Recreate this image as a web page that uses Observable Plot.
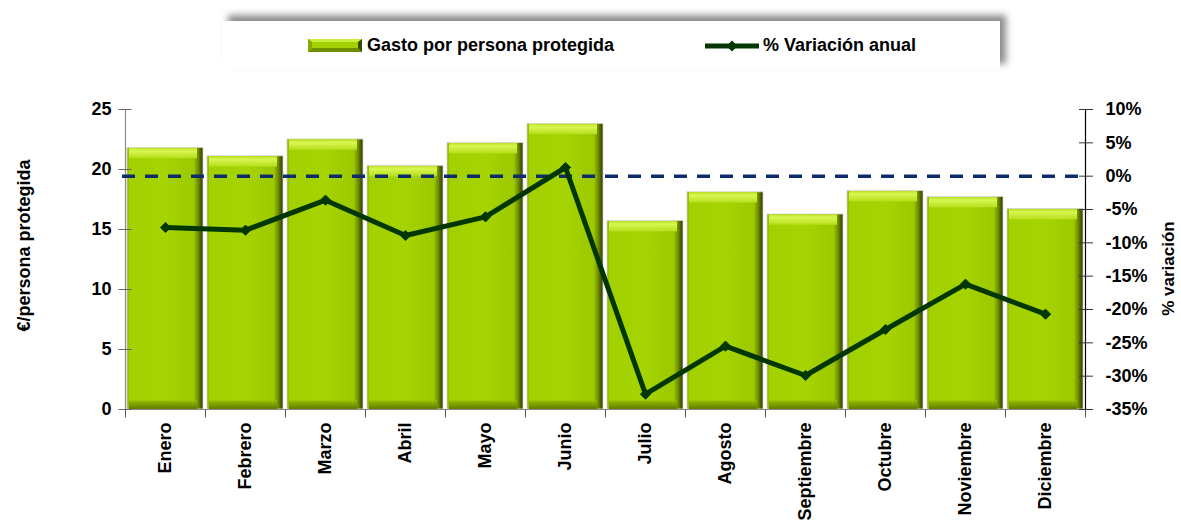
<!DOCTYPE html>
<html>
<head>
<meta charset="utf-8">
<script src="https://cdn.jsdelivr.net/npm/d3@7"></script>
<script src="https://cdn.jsdelivr.net/npm/@observablehq/plot@0.6"></script>
<style>
  body { margin: 0; background: white; font-family: "Liberation Sans", Arial, sans-serif; }
  #legend { position: relative; width: 1181px; height: 80px; }
  #legend .box { position: absolute; left: 222px; top: 21px; width: 778px; height: 49px; background: white;
    box-shadow: 6px -6px 7px rgba(0,0,0,0.45); }
  #legend .item { position: absolute; top: 0; height: 49px; display: flex; align-items: center; font-weight: bold; font-size: 18px; color: #000; }
  #chart { position: relative; width: 1181px; height: 445px; }
  #chart svg { position: absolute; left: 0; top: 0; }
</style>
</head>
<body>
<div id="legend">
  <div class="box">
    <div class="item" style="left:86px">
      <svg width="54" height="13" style="margin-right:5px">
        <rect x="0" y="0" width="54" height="13" fill="#a2d000"/>
        <polygon points="0,0 54,0 50,3 4,3" fill="#c8ee40"/>
        <polygon points="0,13 54,13 50,9 4,9" fill="#6f8f00"/>
        <polygon points="54,0 54,13 50,9 50,3" fill="#3a4a00"/>
        <polygon points="0,0 0,13 4,9 4,3" fill="#86aa00"/>
      </svg>
      <span>Gasto por persona protegida</span>
    </div>
    <div class="item" style="left:483px">
      <svg width="54" height="14" style="margin-right:4px">
        <line x1="0" y1="7" x2="54" y2="7" stroke="#023602" stroke-width="5"/>
        <polygon points="27,1.5 32.5,7 27,12.5 21.5,7" fill="#023602"/>
      </svg>
      <span>% Variación anual</span>
    </div>
  </div>
</div>
<div id="chart"></div>
<script>
// ---- data ----
const months = ["Enero","Febrero","Marzo","Abril","Mayo","Junio","Julio","Agosto","Septiembre","Octubre","Noviembre","Diciembre"];
const gasto = [21.8, 21.1, 22.5, 20.3, 22.2, 23.8, 15.7, 18.1, 16.25, 18.2, 17.7, 16.7];
const variacion = [-7.7, -8.1, -3.6, -8.9, -6.1, 1.3, -32.7, -25.5, -29.9, -23.0, -16.2, -20.7];
const leftTicks = [0, 5, 10, 15, 20, 25];
const rightTicks = [-35, -30, -25, -20, -15, -10, -5, 0, 5, 10];
const leftTitle = "€/persona protegida";
const rightTitle = "% variación";

const data = months.map((m, i) => ({month: m, gasto: gasto[i], pct: variacion[i]}));

const W = 1181, H = 445;
const margins = {marginLeft: 125, marginRight: 96, marginTop: 29, marginBottom: 116};
const xOpts = {type: "band", domain: months, paddingInner: 0.05, paddingOuter: 0.025, align: 0.5};
const font = {fontFamily: "'Liberation Sans', Arial, sans-serif", fontWeight: "bold", fontSize: "18px"};
const step = (W - margins.marginLeft - margins.marginRight) / months.length;

const p1 = Plot.plot({
  width: W, height: H, ...margins,
  style: {...font, background: "white"},
  x: xOpts,
  y: {domain: [0, 25]},
  marks: [
    Plot.barY(data, {x: "month", y: "gasto", fill: "url(#gBar)", stroke: "#d4d4d4", strokeWidth: 0.8}),
    Plot.barY(data, {x: "month", y1: d => d.gasto - 0.9, y2: "gasto", fill: "url(#gTop)", insetLeft: 2, insetRight: 6, insetTop: 0.5}),
    Plot.barY(data, {x: "month", y1: 0, y2: 0.7, fill: "url(#gBot)", insetLeft: 2, insetRight: 6}),
    Plot.ruleY([0], {stroke: "#8c8c8c", strokeWidth: 1.2}),
    Plot.frame({anchor: "left", stroke: "#8c8c8c", strokeWidth: 1.2}),
    Plot.ruleX(months, {x: d => d, dx: -step / 2, y1: 0, y2: -0.7, stroke: "#555"}),
    Plot.ruleX(months.slice(-1), {x: d => d, dx: step / 2, y1: 0, y2: -0.7, stroke: "#555"}),
    Plot.axisY({ticks: leftTicks, anchor: "left", tickSize: 13, dx: 6.5, tickFormat: () => "", label: null, stroke: "#666"}),
    Plot.axisY({ticks: leftTicks, anchor: "left", tickSize: 0, tickPadding: 14, fontSize: 18, label: null}),
    Plot.axisX({tickSize: 0, tickRotate: -90, tickPadding: 13, fontSize: 18, label: null}),
    Plot.text([leftTitle], {text: d => d, frameAnchor: "left", textAnchor: "middle", dx: -101, dy: -14, rotate: -90, fontSize: 18, fontWeight: "bold"})
  ]
});

// gradients for the bevelled bars
const NS = "http://www.w3.org/2000/svg";
const defs = document.createElementNS(NS, "defs");
function grad(id, vertical, stops) {
  const g = document.createElementNS(NS, "linearGradient");
  g.setAttribute("id", id);
  g.setAttribute("x1", "0"); g.setAttribute("y1", "0");
  g.setAttribute("x2", vertical ? "0" : "1"); g.setAttribute("y2", vertical ? "1" : "0");
  for (const [o, c] of stops) {
    const s = document.createElementNS(NS, "stop");
    s.setAttribute("offset", o); s.setAttribute("stop-color", c);
    g.appendChild(s);
  }
  defs.appendChild(g);
}
grad("gBar", false, [[0, "#86aa00"], [0.035, "#a2d000"], [0.5, "#a5d402"], [0.88, "#9cc800"], [0.94, "#6a8800"], [1, "#2c3800"]]);
grad("gTop", true, [[0, "#bfe428"], [0.3, "#d8f652"], [1, "#b6de1a"]]);
grad("gBot", true, [[0, "#94bc00"], [1, "#5e7a00"]]);
p1.insertBefore(defs, p1.firstChild);

const p2 = Plot.plot({
  width: W, height: H, ...margins,
  style: {...font, background: "transparent"},
  x: {...xOpts, axis: null},
  y: {domain: [-35, 10]},
  marks: [
    Plot.ruleY([0], {stroke: "#0e2c6b", strokeWidth: 3.5, strokeDasharray: "13,10", dx: -3}),
    Plot.frame({anchor: "right", stroke: "#000", strokeWidth: 1.2}),
    Plot.line(data, {x: "month", y: "pct", stroke: "#023602", strokeWidth: 5}),
    Plot.dot(data, {x: "month", y: "pct", symbol: "diamond2", r: 4.6, fill: "#023602", stroke: "#023602", strokeWidth: 1}),
    Plot.axisY({ticks: rightTicks, anchor: "right", tickSize: 14, dx: -7, tickFormat: () => "", label: null, stroke: "#333"}),
    Plot.axisY({ticks: rightTicks, anchor: "right", tickSize: 0, tickPadding: 20, fontSize: 18, tickFormat: d => d + "%", label: null}),
    Plot.text([rightTitle], {text: d => d, frameAnchor: "right", textAnchor: "middle", dx: 83, dy: 9, rotate: -90, fontSize: 17, fontWeight: "bold"})
  ]
});

const chart = document.getElementById("chart");
chart.appendChild(p1);
chart.appendChild(p2);
</script>
</body>
</html>
